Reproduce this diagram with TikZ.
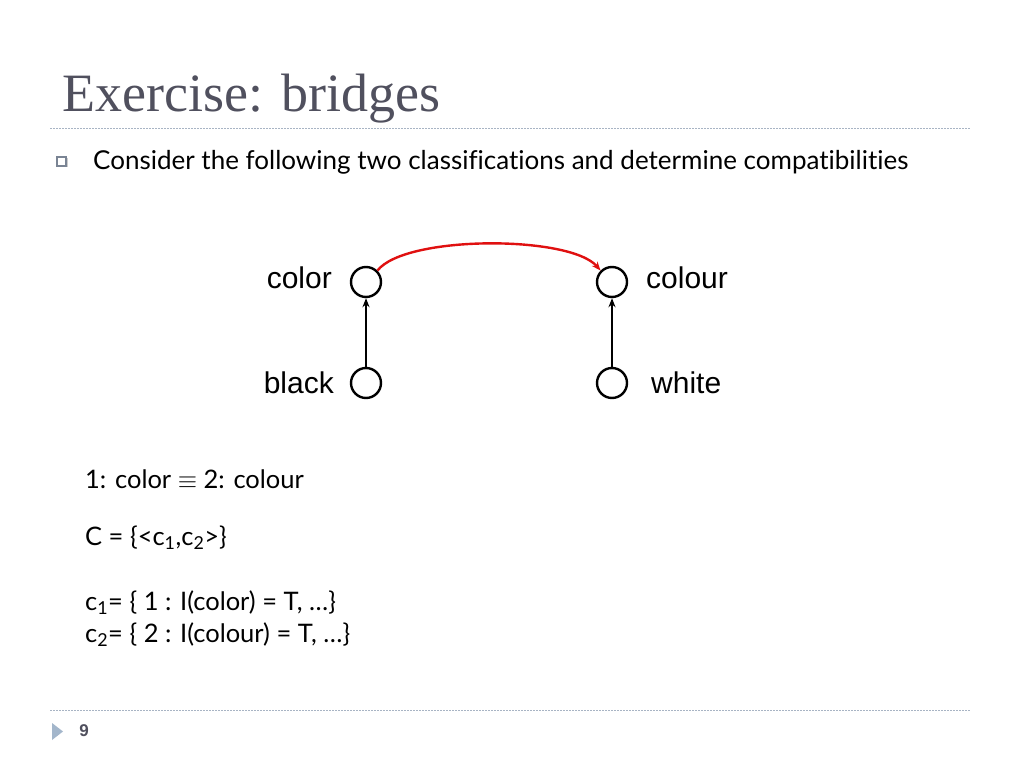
\documentclass[tikz,border=0pt]{standalone}
\usepackage{fontspec}
\setmainfont[Ligatures=NoCommon]{Lato}
\newfontfamily\arialf{Liberation Sans}
\newfontfamily\titlef{Liberation Serif}
\usetikzlibrary{arrows.meta}
\definecolor{titlegray}{HTML}{50505E}
\definecolor{rulecol}{HTML}{A8B4C4}
\definecolor{footblue}{HTML}{A3B6CB}
\definecolor{arcred}{HTML}{E01010}
\definecolor{bulgray}{HTML}{7A8494}
\begin{document}
\begin{tikzpicture}[x=1pt,y=-1pt,
  vnode/.style={circle,draw,line width=2.4pt,minimum size=30pt,inner sep=0pt},
  vlabel/.style={font=\arialf\fontsize{30}{34}\selectfont,inner sep=0pt},
  body/.style={font=\fontsize{25.5}{30}\selectfont,inner sep=0pt,anchor=base west},
  sep/.style={rulecol,dash pattern=on 1.5pt off 1.5pt,line width=0.9pt}]
\useasboundingbox (0,0) rectangle (1023,767);
\fill[white] (0,0) rectangle (1023,767);
% title
\node[font=\titlef\fontsize{54}{58}\selectfont,text=titlegray,anchor=base west,inner sep=0pt] (title) at (62,112) {Exercise: bridges};
\coordinate (r1a) at (50,128); \coordinate (r1b) at (970,128);
\draw[sep] (r1a) -- (r1b);
% bullet
\fill[gray!40] (58.5,158.5) rectangle (67.5,167.5);
\node[draw=bulgray,fill=white,line width=1.1pt,minimum size=9pt,inner sep=0pt] (bul) at (61.5,161.5) {};
\node[body,font=\fontsize{26}{30}\selectfont] (cons) at (93,170) {Consider the following two classifications and determine compatibilities};
% graph
\node[vnode] (color) at (366,282) {};
\node[vnode] (colour) at (612,282) {};
\node[vnode] (black) at (366,383) {};
\node[vnode] (white) at (612,383) {};
\node[vlabel,anchor=east] (lcolor) at (332,278) {color};
\node[vlabel,anchor=west] (lcolour) at (646,278) {colour};
\node[vlabel,anchor=east] (lblack) at (334,383) {black};
\node[vlabel,anchor=west] (lwhite) at (651,383) {white};
\draw[line width=2pt,-{Stealth[length=9pt,width=7pt]}] (black) -- (color);
\draw[line width=2pt,-{Stealth[length=9pt,width=7pt]}] (white) -- (colour);
\draw[arcred,line width=2.4pt,-{Stealth[length=9pt,width=7pt]}] (color.45) .. controls (405,235) and (570,235) .. (colour.135);
% formulas
\node[body] (eq) at (85,488) {1: color $\equiv$ 2: colour};
\node[body] (cset) at (85,545) {C = \{<c\textsubscript{1},c\textsubscript{2}>\}};
\node[body] (c1) at (85,610) {c\textsubscript{1}= \{ 1 : I(color) = T, \dots\}};
\node[body] (c2) at (85,642) {c\textsubscript{2}= \{ 2 : I(colour) = T, \dots\}};
% footer
\coordinate (r2a) at (50,710); \coordinate (r2b) at (970,710);
\draw[sep] (r2a) -- (r2b);
\fill[footblue] (52,723) -- (63,731.5) -- (52,740) -- cycle;
\node[font=\arialf\bfseries\fontsize{17}{20}\selectfont,text=titlegray,inner sep=0pt] (pg) at (84,731) {9};
\end{tikzpicture}
\end{document}
